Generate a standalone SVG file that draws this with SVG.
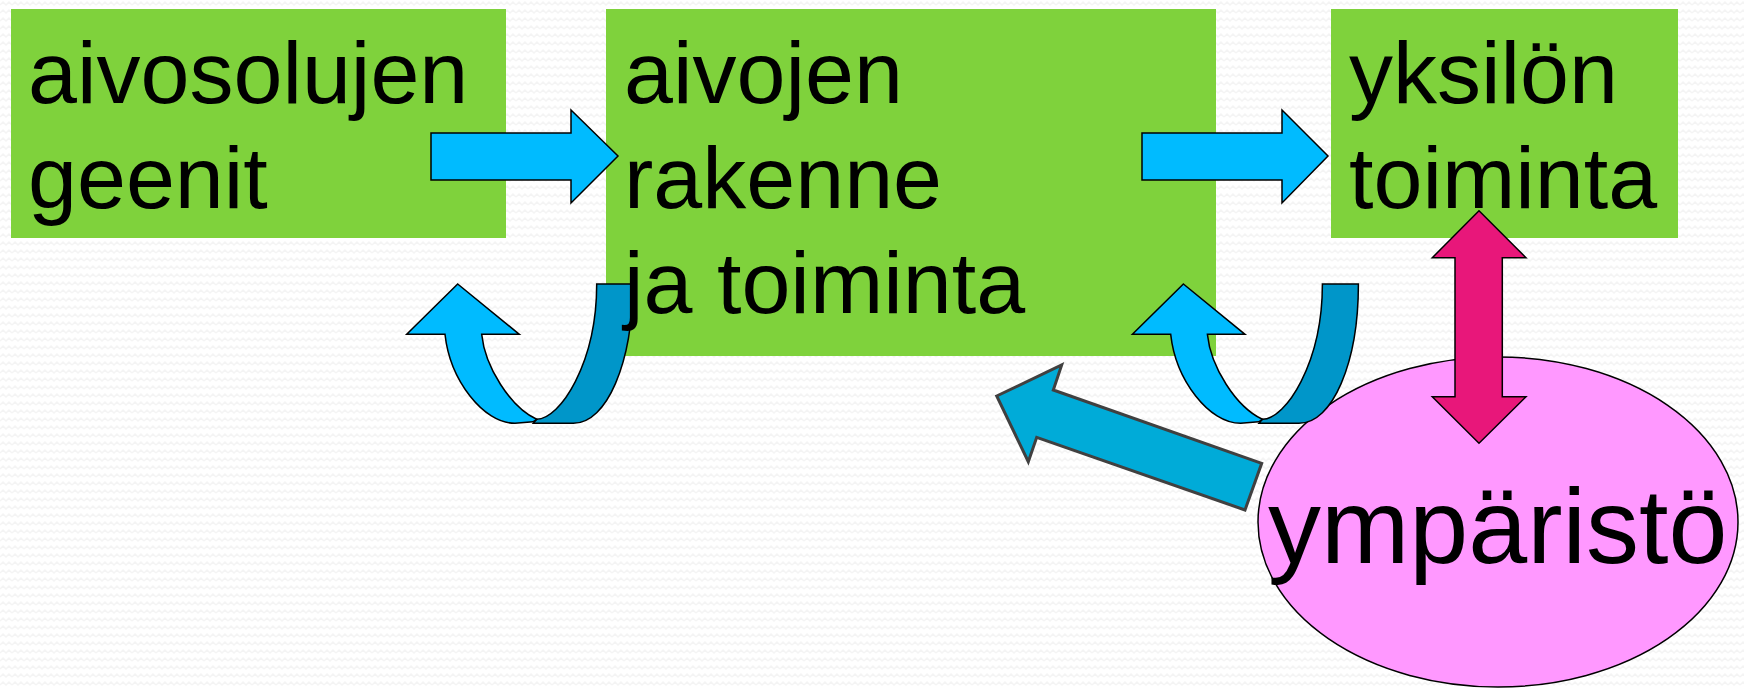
<svg xmlns="http://www.w3.org/2000/svg" xmlns:xlink="http://www.w3.org/1999/xlink" width="1744" height="688" viewBox="0 0 1744 688">
  <defs>
    <!-- faint zigzag background texture -->
    <pattern id="bgWaves" width="12" height="8" patternUnits="userSpaceOnUse">
      <path d="M0,5 L3,2 L6,5 L9,2 L12,5" fill="none" stroke="#f4f4f4" stroke-width="1.5"/>
    </pattern>
    <!-- U-turn arrow: back ribbon + front strip with head -->
    <g id="uturn">
      <path class="ribbon" d="M596.7,284 L632.7,284 C632.7,363.3 606.7,423.3 573.3,423.3 L533.3,423.3 L536.7,419.3 C560,419.3 596.7,363.3 596.7,284 Z"/>
      <path class="front" d="M457.7,284 L519.3,334.3 L481.7,334.3 C485,366.7 510,406.7 536.7,419.3 L533,421.8 L515,423.3 C483.3,423.3 450,380 445,334.3 L406.7,334.3 Z"/>
    </g>
  </defs>
  <style>
    .box { fill: #7fd23c; }
    .label { font-family: "Liberation Sans", Arial, sans-serif; font-size: 88px; fill: #000; }
    .big { font-size: 106px; }
    .blue { fill: #00bbff; stroke: #000; stroke-width: 1.5; stroke-linejoin: miter; }
    .ribbon { fill: #0096c9; stroke: #000; stroke-width: 1.5; }
    .front { fill: #00bbff; stroke: #000; stroke-width: 1.5; }
    .diag { fill: #00abd8; stroke: #404040; stroke-width: 3; stroke-linejoin: miter; }
    .pink { fill: #e8177a; stroke: #000; stroke-width: 1.5; }
    .env { fill: #ff98ff; stroke: #000; stroke-width: 1.5; }
  </style>

  <rect width="1744" height="688" fill="#ffffff"/>
  <rect width="1744" height="688" fill="url(#bgWaves)"/>

  <!-- node shapes -->
  <g id="node-geenit">
    <rect class="box" x="11" y="9" width="495" height="229"/>
  </g>
  <g id="node-aivot">
    <rect class="box" x="606" y="9" width="610" height="347"/>
  </g>
  <g id="node-yksilo">
    <rect class="box" x="1331" y="9" width="347" height="229"/>
  </g>
  <g id="node-ymparisto">
    <ellipse class="env" cx="1498" cy="522" rx="240" ry="165"/>
  </g>

  <!-- connectors -->
  <g id="connectors">
    <path class="blue" d="M431,133 L571,133 L571,110 L618,156 L571,203 L571,180 L431,180 Z"/>
    <path class="blue" d="M1142,133 L1282,133 L1282,110 L1328,156 L1282,203 L1282,180 L1142,180 Z"/>
    <use xlink:href="#uturn"/>
    <use xlink:href="#uturn" transform="translate(725.7,0)"/>
    <path class="diag" d="M996.7,396 L1061.7,365 L1053.3,390 L1261.7,463.3 L1245,510 L1036.7,437.3 L1028.3,461.7 Z"/>
    <path class="pink" d="M1479,210.7 L1526,257.7 L1502.3,257.7 L1502.3,396.7 L1526,396.7 L1479,443.3 L1432.3,396.7 L1455,396.7 L1455,257.7 L1432.3,257.7 Z"/>
  </g>

  <!-- node labels -->
  <g id="labels">
    <text class="label" x="28" y="103">aivosolujen</text>
    <text class="label" x="28" y="208">geenit</text>
    <text class="label" x="624" y="103">aivojen</text>
    <text class="label" x="624" y="208">rakenne</text>
    <text class="label" x="624" y="313">ja toiminta</text>
    <text class="label" x="1349" y="103">yksilön</text>
    <text class="label" x="1349" y="208">toiminta</text>
    <text class="label big" x="1268" y="563">ympäristö</text>
  </g>
</svg>
